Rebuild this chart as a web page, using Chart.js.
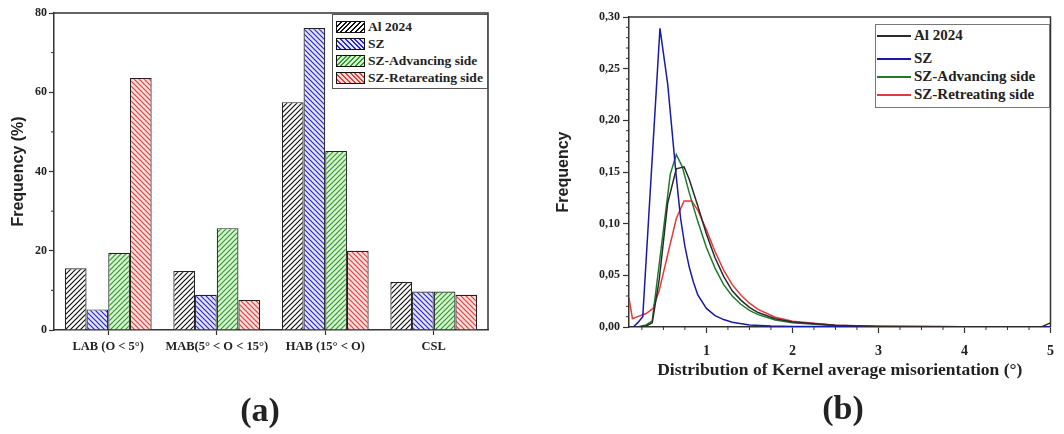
<!DOCTYPE html>
<html>
<head>
<meta charset="utf-8">
<script src="https://cdn.jsdelivr.net/npm/chart.js@4.4.1/dist/chart.umd.min.js"></script>
<style>
  body { margin: 0; background: #fff; }
  #wrap { position: relative; width: 1064px; height: 434px; overflow: hidden; font-family: "Liberation Serif", serif; font-weight: bold; color: #222; }
  canvas { position: absolute; top: 0; }
  .legend { position: absolute; border: 1px solid #555; background: #fff; }
  .row { position: absolute; white-space: nowrap; font-size: 13.5px; line-height: 15px; }
  .sw { position: absolute; left: 0; top: 2px; width: 27px; height: 10px; border: 1px solid #111; }
  .ln { position: absolute; left: 0; top: 7px; height: 2px; width: 34px; display: block; }
  .panel { position: absolute; font-size: 34px; line-height: 34px; transform: translate(-50%, -50%); }
</style>
</head>
<body>
<div id="wrap">
  <canvas id="graf_a" width="520" height="434" style="left:0"></canvas>
  <canvas id="graf_b" width="534" height="434" style="left:530px"></canvas>

  <div class="legend" style="left:332px;top:14px;width:154px;height:73px">
    <div class="row" style="left:3px;top:4px"><span class="sw" style="background:repeating-linear-gradient(-45deg,#fff 0 2px,#111 2px 3.4px)"></span><span style="margin-left:32px">Al 2024</span></div>
    <div class="row" style="left:3px;top:21px"><span class="sw" style="background:repeating-linear-gradient(45deg,#e4e4fa 0 2px,#2a2ad0 2px 3.4px)"></span><span style="margin-left:32px">SZ</span></div>
    <div class="row" style="left:3px;top:38px"><span class="sw" style="background:repeating-linear-gradient(-45deg,#d8f4d0 0 2px,#2e9a2e 2px 3.4px)"></span><span style="margin-left:32px">SZ-Advancing side</span></div>
    <div class="row" style="left:3px;top:55px"><span class="sw" style="background:repeating-linear-gradient(45deg,#fde0dc 0 2px,#e04040 2px 3.4px)"></span><span style="margin-left:32px">SZ-Retareating side</span></div>
  </div>

  <div class="legend" style="left:875px;top:24px;width:173px;height:82px;border-color:#777">
    <div class="row" style="left:1px;top:3px;font-size:15px"><span class="ln" style="background:#2b2b2b"></span><span style="margin-left:37px">Al 2024</span></div>
    <div class="row" style="left:1px;top:26px;font-size:15px"><span class="ln" style="background:#1a1aa8"></span><span style="margin-left:37px">SZ</span></div>
    <div class="row" style="left:1px;top:44px;font-size:15px"><span class="ln" style="background:#1e7b2e"></span><span style="margin-left:37px">SZ-Advancing side</span></div>
    <div class="row" style="left:1px;top:62px;font-size:15px"><span class="ln" style="background:#e53935"></span><span style="margin-left:37px">SZ-Retreating side</span></div>
  </div>

  <div class="panel" style="left:260px;top:410px">(a)</div>
  <div class="panel" style="left:843px;top:408px">(b)</div>
</div>

<script>
// ---- (a) datos de barras ----
const categorias = ['LAB (O < 5°)', 'MAB(5° < O < 15°)', 'HAB (15° < O)', 'CSL'];
const frec_al2024 = [15.6, 14.9, 57.5, 12.1];
const frec_sz = [5.2, 8.9, 76.2, 9.7];
const frec_avance = [19.5, 25.7, 45.2, 9.7];
const frec_retro = [63.6, 7.6, 20.0, 8.9];
const ticks_a = [0, 20, 40, 60, 80];

// ---- (b) datos de curvas KAM ----
const kam_al_x = [0.1, 0.2, 0.3, 0.37, 0.45, 0.55, 0.65, 0.74, 0.8, 0.9, 1.0, 1.1, 1.2, 1.3, 1.4, 1.5, 1.6, 1.8, 2.0, 2.5, 3.0, 4.0, 4.9, 5.0];
const kam_al_y = [0, 0, 0.001, 0.004, 0.045, 0.12, 0.153, 0.155, 0.143, 0.117, 0.09, 0.067, 0.049, 0.035, 0.026, 0.019, 0.014, 0.008, 0.0048, 0.0016, 0.0006, 0.0003, 0.0003, 0.004];
const kam_sz_x = [0.1, 0.15, 0.2, 0.26, 0.46, 0.55, 0.6, 0.65, 0.7, 0.75, 0.8, 0.85, 0.9, 1.0, 1.1, 1.2, 1.3, 1.5, 1.75, 2.0, 3.0, 5.0];
const kam_sz_y = [0, 0, 0.004, 0.01, 0.289, 0.235, 0.19, 0.145, 0.105, 0.078, 0.058, 0.043, 0.031, 0.018, 0.011, 0.0072, 0.0047, 0.002, 0.001, 0.0006, 0.0002, 0.0002];
const kam_av_x = [0.1, 0.2, 0.3, 0.37, 0.45, 0.58, 0.65, 0.72, 0.8, 0.9, 1.0, 1.1, 1.2, 1.3, 1.4, 1.5, 1.6, 1.8, 2.0, 2.5, 3.0, 4.0, 5.0];
const kam_av_y = [0, 0, 0.002, 0.006, 0.06, 0.148, 0.167, 0.155, 0.13, 0.102, 0.077, 0.057, 0.041, 0.03, 0.022, 0.016, 0.012, 0.0068, 0.004, 0.0013, 0.0005, 0.0002, 0.0002];
const kam_re_x = [0.1, 0.14, 0.2, 0.3, 0.38, 0.45, 0.55, 0.65, 0.74, 0.83, 0.9, 1.0, 1.1, 1.2, 1.3, 1.4, 1.5, 1.6, 1.8, 2.0, 2.5, 3.0, 4.0, 5.0];
const kam_re_y = [0.028, 0.008, 0.01, 0.013, 0.018, 0.035, 0.07, 0.105, 0.122, 0.122, 0.113, 0.094, 0.073, 0.055, 0.041, 0.031, 0.023, 0.017, 0.0095, 0.0055, 0.0018, 0.0007, 0.0003, 0.0003];

const serif = '"Liberation Serif", serif';
const sans = '"Liberation Sans", Arial, sans-serif';

// rayado para las barras
function rayado(fondo, linea, sentido) {
  const s = 5;
  const c = document.createElement('canvas');
  c.width = s; c.height = s;
  const g = c.getContext('2d');
  g.fillStyle = fondo; g.fillRect(0, 0, s, s);
  g.strokeStyle = linea; g.lineWidth = 1.2;
  g.beginPath();
  if (sentido === '/') {
    g.moveTo(-1, s + 1); g.lineTo(s + 1, -1);
    g.moveTo(-1, 1); g.lineTo(1, -1);
    g.moveTo(s - 1, s + 1); g.lineTo(s + 1, s - 1);
  } else {
    g.moveTo(-1, -1); g.lineTo(s + 1, s + 1);
    g.moveTo(s - 1, -1); g.lineTo(s + 1, 1);
    g.moveTo(-1, s - 1); g.lineTo(1, s + 1);
  }
  g.stroke();
  return g.createPattern(c, 'repeat');
}

// marco superior/derecho y ticks menores
const marco = {
  id: 'marco',
  afterDraw(chart, args, opts) {
    const ctx = chart.ctx, a = chart.chartArea;
    ctx.save();
    ctx.strokeStyle = '#333';
    ctx.lineWidth = 1.5;
    ctx.beginPath();
    ctx.moveTo(a.left, a.top); ctx.lineTo(a.right, a.top); ctx.lineTo(a.right, a.bottom);
    ctx.stroke();
    ctx.lineWidth = 1;
    (opts.menores || []).forEach(m => {
      const sc = chart.scales[m.eje];
      m.valores.forEach(v => {
        const p = sc.getPixelForValue(v);
        ctx.beginPath();
        if (m.eje === 'y') { ctx.moveTo(a.left, p); ctx.lineTo(a.left - m.largo, p); }
        else { ctx.moveTo(p, a.bottom); ctx.lineTo(p, a.bottom + m.largo); }
        ctx.stroke();
      });
    });
    ctx.restore();
  }
};

const menores_b_y = [];
for (let i = 1; i < 30; i++) if (i % 5) menores_b_y.push(i / 100);
const menores_b_x = [];
for (let i = 1; i < 20; i++) if (i % 4) menores_b_x.push(i / 4);

// ---- grafico (a) ----
const ctx_a = document.getElementById('graf_a').getContext('2d');
const graf_a = new Chart(ctx_a, {
  type: 'bar',
  data: {
    labels: categorias,
    datasets: [
      { label: 'Al 2024', data: frec_al2024, backgroundColor: rayado('#ffffff', '#111111', '/'), borderColor: '#222', borderWidth: 1.2 },
      { label: 'SZ', data: frec_sz, backgroundColor: rayado('#e4e4fa', '#2a2ad0', '\\'), borderColor: '#222', borderWidth: 1.2 },
      { label: 'SZ-Advancing side', data: frec_avance, backgroundColor: rayado('#d8f4d0', '#2e9a2e', '/'), borderColor: '#222', borderWidth: 1.2 },
      { label: 'SZ-Retareating side', data: frec_retro, backgroundColor: rayado('#fde0dc', '#e04040', '\\'), borderColor: '#222', borderWidth: 1.2 }
    ]
  },
  plugins: [marco],
  options: {
    responsive: false,
    animation: false,
    categoryPercentage: 0.8,
    barPercentage: 1.0,
    layout: { padding: { left: 0, right: 32, top: 13, bottom: 74 } },
    plugins: {
      legend: { display: false },
      tooltip: { enabled: false },
      marco: { menores: [{ eje: 'y', valores: [10, 30, 50, 70], largo: 3 }] }
    },
    scales: {
      x: {
        grid: { offset: false, drawOnChartArea: false, tickLength: 5, tickColor: '#333', tickWidth: 1.2 },
        border: { color: '#333', width: 1.5 },
        ticks: { color: '#222', padding: 4, maxRotation: 0, minRotation: 0, autoSkip: false, font: { family: serif, weight: 'bold', size: 12.5 } },
        afterFit: s => { s.height = 30; }
      },
      y: {
        min: 0, max: 80,
        afterBuildTicks: s => { s.ticks = ticks_a.map(v => ({ value: v })); },
        grid: { drawOnChartArea: false, tickLength: 5, tickColor: '#333', tickWidth: 1.2 },
        border: { color: '#333', width: 1.5 },
        ticks: { color: '#222', padding: 2, font: { family: serif, weight: 'bold', size: 12 } },
        title: { display: true, text: 'Frequency (%)', color: '#222', padding: { top: 11, bottom: 0 }, font: { family: sans, weight: 'bold', size: 16, lineHeight: 1 } },
        afterFit: s => { s.width = 54; }
      }
    }
  }
});

// ---- grafico (b) ----
const puntos = (xs, ys) => xs.map((x, i) => ({ x: x, y: ys[i] }));
const ctx_b = document.getElementById('graf_b').getContext('2d');
const graf_b = new Chart(ctx_b, {
  type: 'line',
  data: {
    datasets: [
      { label: 'Al 2024', data: puntos(kam_al_x, kam_al_y), borderColor: '#2b2b2b' },
      { label: 'SZ', data: puntos(kam_sz_x, kam_sz_y), borderColor: '#1a1aa8' },
      { label: 'SZ-Advancing side', data: puntos(kam_av_x, kam_av_y), borderColor: '#1e7b2e' },
      { label: 'SZ-Retreating side', data: puntos(kam_re_x, kam_re_y), borderColor: '#e53935' }
    ]
  },
  plugins: [marco],
  options: {
    responsive: false,
    animation: false,
    elements: { point: { radius: 0 }, line: { borderWidth: 1.5, tension: 0 } },
    layout: { padding: { left: 0, right: 10, top: 17, bottom: 52 } },
    plugins: {
      legend: { display: false },
      tooltip: { enabled: false },
      marco: { menores: [{ eje: 'y', valores: menores_b_y, largo: 3 }, { eje: 'x', valores: menores_b_x, largo: 3 }] }
    },
    scales: {
      x: {
        type: 'linear', min: 0.1, max: 5,
        afterBuildTicks: s => { s.ticks = [1, 2, 3, 4, 5].map(v => ({ value: v })); },
        grid: { drawOnChartArea: false, tickLength: 6, tickColor: '#333', tickWidth: 1.2 },
        border: { color: '#333', width: 1.5 },
        ticks: { color: '#222', padding: 10, font: { family: serif, weight: 'bold', size: 14 } },
        title: { display: true, text: 'Distribution of Kernel average misorientation (°)', color: '#222', padding: { top: 0, bottom: 3 }, font: { family: serif, weight: 'bold', size: 17.5, lineHeight: 1 } },
        afterFit: s => { s.height = 55; }
      },
      y: {
        min: 0, max: 0.3,
        ticks: { stepSize: 0.05, color: '#222', padding: 3, font: { family: serif, weight: 'bold', size: 12 },
                 callback: v => v.toFixed(2).replace('.', ',') },
        grid: { drawOnChartArea: false, tickLength: 6, tickColor: '#333', tickWidth: 1.2 },
        border: { color: '#333', width: 1.5 },
        title: { display: true, text: 'Frequency', color: '#222', padding: { top: 26, bottom: 0 }, font: { family: sans, weight: 'bold', size: 16, lineHeight: 1 } },
        afterFit: s => { s.width = 99; }
      }
    }
  }
});
</script>
</body>
</html>
